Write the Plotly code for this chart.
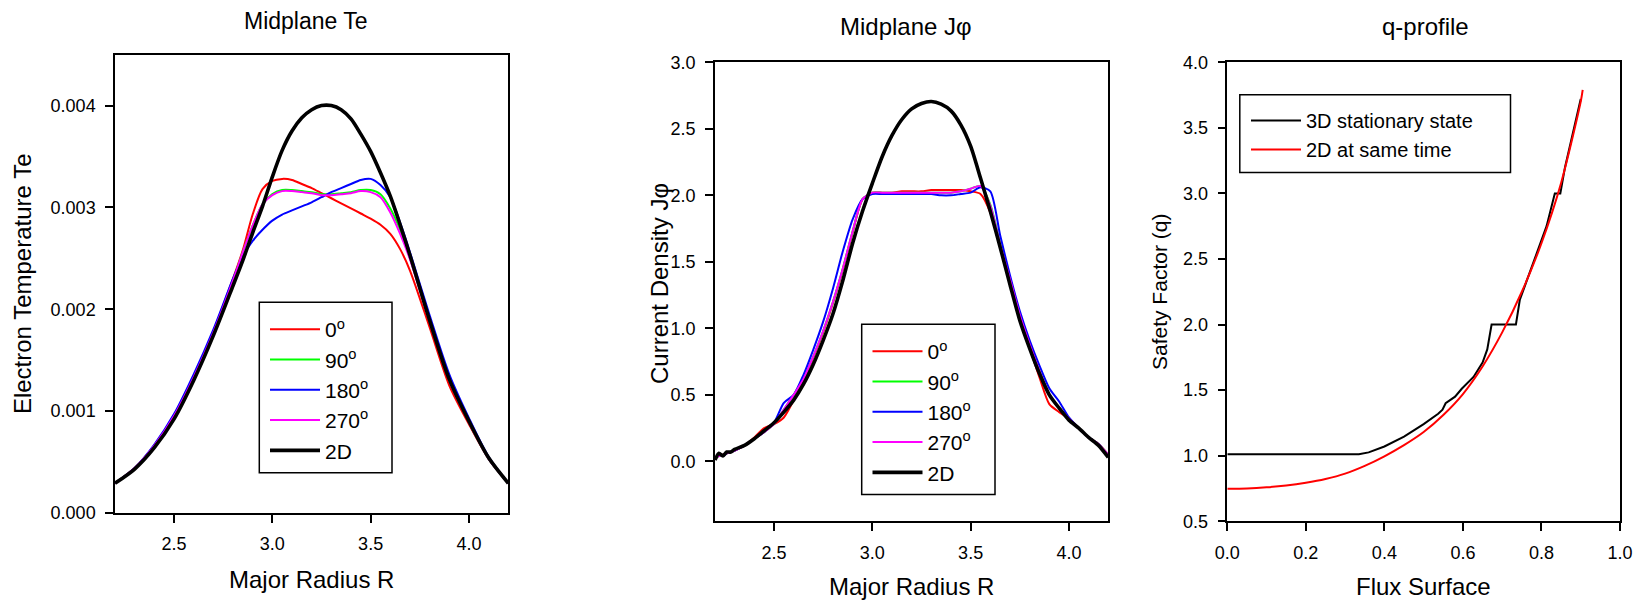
import plotly.graph_objects as go

FONT = "Liberation Sans, Arial, sans-serif"
W, H = 1644, 601
OFF = 8  # page body margin offset of the figure inside the window

# ---------------- Panel 1: Midplane Te ----------------
R1 = [2.2, 2.3, 2.4, 2.5, 2.6, 2.7, 2.8, 2.85, 2.9, 2.95, 3.0, 3.05, 3.1, 3.15, 3.2,
      3.25, 3.3, 3.35, 3.4, 3.45, 3.5, 3.55, 3.6, 3.65, 3.7, 3.8, 3.9, 4.0, 4.1, 4.2]
te_0 = [0.00029, 0.00044, 0.00066, 0.00094, 0.00132, 0.00178, 0.00230, 0.00258, 0.00293, 0.00318,
        0.00326, 0.00328, 0.00327, 0.00323, 0.00319, 0.00314, 0.00309, 0.00304, 0.00299, 0.00294,
        0.00289, 0.00283, 0.00274, 0.00259, 0.00238, 0.00182, 0.00125, 0.00087, 0.00053, 0.00029]
te_90 = [0.00029, 0.00044, 0.00066, 0.00095, 0.00133, 0.00177, 0.00228, 0.00256, 0.00282, 0.00303,
         0.00313, 0.00317, 0.00317, 0.00316, 0.00315, 0.00313, 0.00313, 0.00314, 0.00315, 0.00317,
         0.00317, 0.00313, 0.00299, 0.00278, 0.00250, 0.00188, 0.00130, 0.00089, 0.00053, 0.00029]
te_180 = [0.00029, 0.00044, 0.00067, 0.00097, 0.00136, 0.00180, 0.00230, 0.00252, 0.00267, 0.00278,
          0.00287, 0.00293, 0.00297, 0.00301, 0.00305, 0.00310, 0.00315, 0.00319, 0.00323, 0.00327,
          0.00328, 0.00322, 0.00310, 0.00285, 0.00256, 0.00194, 0.00136, 0.00093, 0.00055, 0.00029]
te_270 = [0.00029, 0.00044, 0.00066, 0.00095, 0.00133, 0.00177, 0.00228, 0.00256, 0.00282, 0.00303,
          0.00312, 0.00316, 0.00316, 0.00315, 0.00314, 0.00312, 0.00312, 0.00313, 0.00314, 0.00316,
          0.00315, 0.00310, 0.00295, 0.00274, 0.00249, 0.00188, 0.00130, 0.00089, 0.00053, 0.00029]
te_2d = [0.00029, 0.00043, 0.00064, 0.00092, 0.00130, 0.00174, 0.00223, 0.00248, 0.00275, 0.00301,
         0.00330, 0.00356, 0.00375, 0.00388, 0.00396, 0.00400, 0.00400, 0.00396, 0.00387, 0.00372,
         0.00355, 0.00334, 0.00311, 0.00283, 0.00253, 0.00189, 0.00131, 0.00090, 0.00054, 0.00029]

# ---------------- Panel 2: Midplane Jphi ----------------
R2 = [2.2, 2.22, 2.24, 2.26, 2.28, 2.3, 2.35, 2.4, 2.45, 2.5, 2.55, 2.6, 2.65, 2.7, 2.75, 2.8,
      2.85, 2.9, 2.95, 3.0, 3.05, 3.1, 3.15, 3.2, 3.25, 3.3, 3.35, 3.4, 3.45, 3.5, 3.55, 3.6,
      3.65, 3.7, 3.75, 3.8, 3.85, 3.9, 3.95, 4.0, 4.05, 4.1, 4.15, 4.2]
j_0 = [0.02, 0.05, 0.05, 0.06, 0.07, 0.08, 0.12, 0.18, 0.25, 0.28, 0.33, 0.46, 0.61, 0.78, 0.97, 1.19,
       1.44, 1.72, 1.97, 2.02, 2.02, 2.02, 2.03, 2.03, 2.03, 2.04, 2.04, 2.04, 2.04, 2.03, 2.01, 1.87,
       1.62, 1.34, 1.07, 0.85, 0.63, 0.43, 0.37, 0.32, 0.25, 0.18, 0.13, 0.05]
j_90 = [0.02, 0.04, 0.05, 0.06, 0.07, 0.08, 0.12, 0.17, 0.22, 0.28, 0.39, 0.50, 0.62, 0.79, 0.98, 1.20,
        1.45, 1.73, 1.97, 2.02, 2.02, 2.02, 2.02, 2.02, 2.02, 2.02, 2.02, 2.02, 2.03, 2.05, 2.07, 1.93,
        1.64, 1.37, 1.10, 0.88, 0.68, 0.50, 0.40, 0.32, 0.25, 0.18, 0.13, 0.05]
j_180 = [0.02, 0.05, 0.04, 0.06, 0.07, 0.08, 0.12, 0.17, 0.22, 0.29, 0.44, 0.50, 0.65, 0.84, 1.05, 1.30,
         1.58, 1.82, 1.97, 2.01, 2.01, 2.01, 2.01, 2.01, 2.01, 2.01, 2.00, 2.00, 2.01, 2.02, 2.06, 2.03,
         1.70, 1.40, 1.13, 0.91, 0.72, 0.55, 0.45, 0.33, 0.25, 0.18, 0.13, 0.04]
j_270 = [0.02, 0.04, 0.05, 0.06, 0.07, 0.08, 0.12, 0.17, 0.22, 0.28, 0.39, 0.50, 0.62, 0.79, 0.98, 1.20,
         1.45, 1.73, 1.97, 2.02, 2.02, 2.02, 2.02, 2.02, 2.02, 2.02, 2.02, 2.02, 2.03, 2.05, 2.07, 1.92,
         1.63, 1.37, 1.10, 0.88, 0.68, 0.50, 0.40, 0.32, 0.25, 0.18, 0.13, 0.05]
j_2d = [0.01, 0.06, 0.04, 0.07, 0.07, 0.09, 0.12, 0.17, 0.23, 0.29, 0.37, 0.46, 0.58, 0.73, 0.91, 1.11,
        1.36, 1.64, 1.88, 2.09, 2.29, 2.45, 2.57, 2.65, 2.69, 2.705, 2.685, 2.635, 2.53, 2.37, 2.13, 1.88,
        1.61, 1.33, 1.06, 0.85, 0.66, 0.50, 0.40, 0.31, 0.25, 0.18, 0.12, 0.03]

# ---------------- Panel 3: q-profile ----------------
psi_3d = [0.0, 0.335, 0.36, 0.4, 0.45, 0.5, 0.537, 0.548, 0.556, 0.58, 0.597, 0.627, 0.65, 0.662,
          0.673, 0.735, 0.745, 0.78, 0.813, 0.834, 0.848, 0.86, 0.88, 0.9]
q_3d = [1.01, 1.01, 1.025, 1.07, 1.145, 1.24, 1.32, 1.35, 1.40, 1.45, 1.51, 1.60, 1.71, 1.81,
        2.0, 2.0, 2.19, 2.47, 2.75, 3.0, 3.0, 3.2, 3.47, 3.72]
psi_2d = [0.0, 0.05, 0.1, 0.15, 0.2, 0.25, 0.3, 0.35, 0.4, 0.45, 0.5, 0.55, 0.6, 0.65, 0.7,
          0.75, 0.8, 0.85, 0.9, 0.905]
q_2d = [0.748, 0.750, 0.758, 0.772, 0.793, 0.822, 0.863, 0.922, 0.995, 1.08, 1.18, 1.31, 1.47,
        1.68, 1.94, 2.25, 2.62, 3.08, 3.70, 3.79]

angle_labels = ["0<sup>o</sup>", "90<sup>o</sup>", "180<sup>o</sup>", "270<sup>o</sup>", "2D"]
angle_colors = ["#ff0000", "#00ff00", "#0000ff", "#ff00ff", "#000000"]
q_labels = ["3D stationary state", "2D at same time"]


def fx(px):
    return (px - OFF) / W


def fy(py):
    return 1 - (py - OFF) / H


fig = go.Figure()

te_series = [te_0, te_90, te_180, te_270, te_2d]
j_series = [j_0, j_90, j_180, j_270, j_2d]
for i, (lab, col) in enumerate(zip(angle_labels, angle_colors)):
    lw = 3.6 if lab == "2D" else 2
    fig.add_trace(go.Scatter(x=R1, y=te_series[i], mode="lines", name=lab,
                             line=dict(color=col, width=lw, shape="spline", smoothing=0.8),
                             xaxis="x", yaxis="y", legend="legend"))
for i, (lab, col) in enumerate(zip(angle_labels, angle_colors)):
    lw = 3.6 if lab == "2D" else 2
    fig.add_trace(go.Scatter(x=R2, y=j_series[i], mode="lines", name=lab,
                             line=dict(color=col, width=lw, shape="spline", smoothing=0.7),
                             xaxis="x2", yaxis="y2", legend="legend2"))
fig.add_trace(go.Scatter(x=psi_3d, y=q_3d, mode="lines", name=q_labels[0],
                         line=dict(color="black", width=2),
                         xaxis="x3", yaxis="y3", legend="legend3"))
fig.add_trace(go.Scatter(x=psi_2d, y=q_2d, mode="lines", name=q_labels[1],
                         line=dict(color="#ff0000", width=2, shape="spline", smoothing=0.8),
                         xaxis="x3", yaxis="y3", legend="legend3"))

ax = dict(showline=True, linecolor="black", linewidth=1.5, mirror=True, ticks="outside",
          ticklen=8, tickwidth=1.5, tickcolor="black", showgrid=False, zeroline=False,
          automargin=False, tickfont=dict(family=FONT, size=18, color="black"))

fig.update_layout(
    template="none",
    width=W, height=H, margin=dict(l=0, r=0, t=0, b=0, pad=0, autoexpand=False),
    paper_bgcolor="white", plot_bgcolor="white",
    font=dict(family=FONT, color="black"),
    xaxis=dict(ax, domain=[fx(115), fx(508.3)], range=[2.2, 4.2], tickvals=[2.5, 3.0, 3.5, 4.0],
               tickformat=".1f", anchor="y", ticklabelstandoff=6),
    yaxis=dict(ax, domain=[fy(512.8), fy(54.7)], range=[0, 0.0045],
               tickvals=[0, 0.001, 0.002, 0.003, 0.004], tickformat=".3f", anchor="x",
               ticklabelstandoff=6),
    xaxis2=dict(ax, domain=[fx(715), fx(1108.3)], range=[2.2, 4.2], tickvals=[2.5, 3.0, 3.5, 4.0],
                tickformat=".1f", anchor="y2", ticklabelstandoff=6),
    yaxis2=dict(ax, domain=[fy(521.2), fy(62.3)], range=[-0.45, 3.0],
                tickvals=[0, 0.5, 1.0, 1.5, 2.0, 2.5, 3.0], tickformat=".1f", anchor="x2",
                ticklabelstandoff=6),
    xaxis3=dict(ax, domain=[fx(1227.3), fx(1620)], range=[0, 1],
                tickvals=[0, 0.2, 0.4, 0.6, 0.8, 1.0], tickformat=".1f", anchor="y3",
                ticklabelstandoff=6),
    yaxis3=dict(ax, domain=[fy(521.2), fy(62.3)], range=[0.5, 4.0],
                tickvals=[0.5, 1.0, 1.5, 2.0, 2.5, 3.0, 3.5, 4.0], tickformat=".1f", anchor="x3",
                ticklabelstandoff=6),
    legend=dict(x=fx(265), y=fy(309), xanchor="left", yanchor="top", bgcolor="rgba(0,0,0,0)",
                borderwidth=0, itemwidth=50, font=dict(family=FONT, size=21, color="black")),
    legend2=dict(x=fx(867.5), y=fy(331), xanchor="left", yanchor="top", bgcolor="rgba(0,0,0,0)",
                 borderwidth=0, itemwidth=50, font=dict(family=FONT, size=21, color="black")),
    legend3=dict(x=fx(1246), y=fy(101), xanchor="left", yanchor="top", bgcolor="rgba(0,0,0,0)",
                 borderwidth=0, itemwidth=50, font=dict(family=FONT, size=20, color="black")),
)

# legend frames
for (x0, y0, x1, y1) in [(259.3, 302.3, 392, 472.7), (861.7, 324.3, 995, 494.4),
                         (1239.8, 94.7, 1510.5, 172.5)]:
    fig.add_shape(type="rect", xref="paper", yref="paper", x0=fx(x0), x1=fx(x1), y0=fy(y1),
                  y1=fy(y0), line=dict(color="black", width=1.5), fillcolor="white", layer="below")

texts = [
    ("Midplane Te", 306, 21, 23, 0),
    ("Midplane J\u03c6", 905.5, 26.5, 24, 0),
    ("q-profile", 1425, 27, 24, 0),
    ("Major Radius R", 311.5, 579.5, 24, 0),
    ("Major Radius R", 911.7, 586.5, 24, 0),
    ("Flux Surface", 1423.6, 586.5, 24, 0),
    ("Electron Temperature Te", 22.5, 283.6, 24, -90),
    ("Current Density J\u03c6", 659.5, 283.5, 24, -90),
    ("Safety Factor (q)", 1159, 292, 21, -90),
]
for t, x, y, s, rot in texts:
    fig.add_annotation(text=t, x=fx(x), y=fy(y), xref="paper", yref="paper", showarrow=False,
                       xanchor="center", yanchor="middle", textangle=rot,
                       font=dict(family=FONT, size=s, color="black"))

fig.write_html("out.html")
